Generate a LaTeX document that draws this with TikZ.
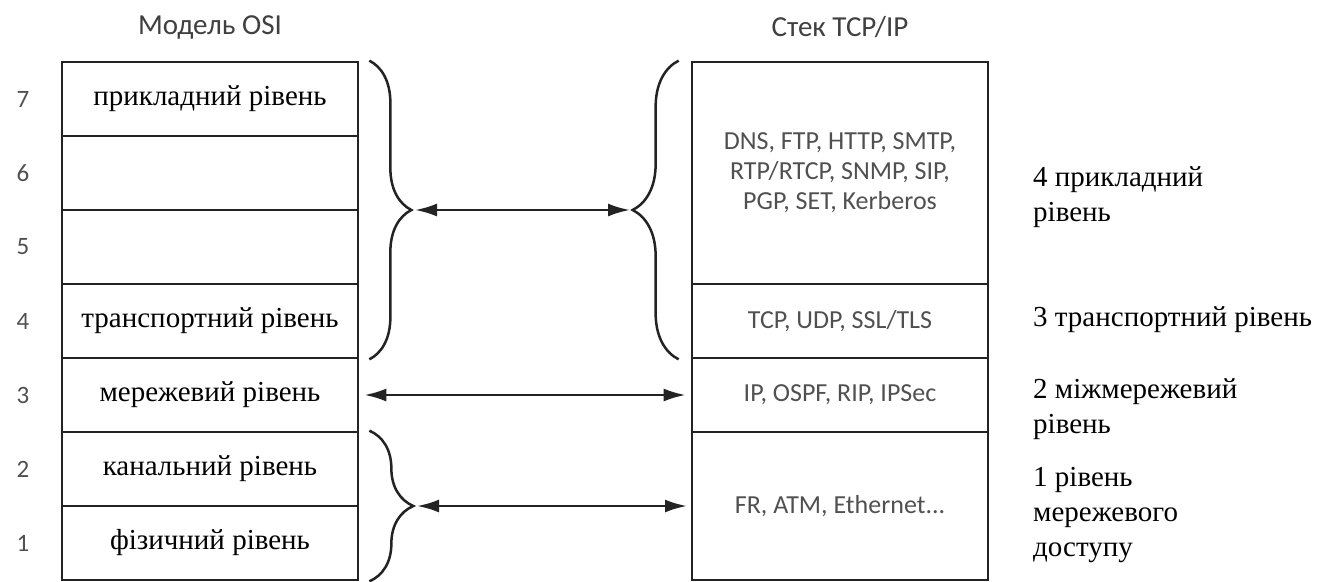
\documentclass[tikz,border=0pt]{standalone}
\usepackage{fontspec}
\setmainfont{Liberation Serif}
\setsansfont{Carlito}
\usetikzlibrary{arrows.meta,decorations.pathreplacing}
\definecolor{linegray}{RGB}{35,35,35}
\definecolor{textgray}{RGB}{80,80,80}

\begin{document}
\begin{tikzpicture}[x=1pt, y=-1pt,
    layer/.style={draw=linegray, line width=2.7pt, minimum width=296pt, minimum height=74pt,
      inner sep=0pt, font=\fontsize{29}{34}\selectfont},
    proto/.style={layer, font=\sffamily\fontsize{26}{30}\selectfont, text=textgray, align=center},
    num/.style={font=\sffamily\fontsize{25}{30}\selectfont, text=textgray},
    stack/.style={font=\fontsize{29}{35}\selectfont, align=left, anchor=west, inner sep=0pt},
    title/.style={font=\sffamily\fontsize{29}{34}\selectfont, text=textgray!80!black},
    bracket/.style={draw=linegray, line width=2.5pt, decorate, decoration={brace, amplitude=#1}},
    bracket/.default=42,
    link/.style={{Latex[length=22pt,width=13pt]}-{Latex[length=22pt,width=13pt]}, draw=linegray, line width=2.6pt}]
    \useasboundingbox (0,0) rectangle (1325,581);

    \node[title] (osititle) at (210, 27) {Модель OSI};
    \node[title] (tcptitle) at (840, 27) {Стек TCP/IP};

    % OSI model
    \node[layer] (osi7) at (210, 99) {прикладний рівень};
    \node[layer] (osi6) at (210, 173) {};
    \node[layer] (osi5) at (210, 247) {};
    \node[layer] (osi4) at (210, 321) {транспортний рівень};
    \node[layer] (osi3) at (210, 395) {мережевий рівень};
    \node[layer] (osi2) at (210, 469) {канальний рівень};
    \node[layer] (osi1) at (210, 543) {фізичний рівень};

    \node[num] (n7) at (23, 99) {7};
    \node[num] (n6) at (23, 173) {6};
    \node[num] (n5) at (23, 247) {5};
    \node[num] (n4) at (23, 321) {4};
    \node[num] (n3) at (23, 395) {3};
    \node[num] (n2) at (23, 469) {2};
    \node[num] (n1) at (23, 543) {1};

    % TCP/IP stack
    \node[proto, minimum height=222pt] (application) at (840, 173)
    {DNS, FTP, HTTP, SMTP,\\RTP/RTCP, SNMP, SIP,\\PGP, SET, Kerberos};
    \node[proto] (transport) at (840, 321) {TCP, UDP, SSL/TLS};
    \node[proto] (internet) at (840, 395) {IP, OSPF, RIP, IPSec};
    \node[proto, minimum height=148pt] (access) at (840, 506) {FR, ATM, Ethernet...};

    \node[stack] (applabel) at (1033, 197) {4 прикладний\\рівень};
    \node[stack] (translabel) at (1033, 320) {3 транспортний рівень};
    \node[stack] (netlabel) at (1033, 409) {2 міжмережевий\\рівень};
    \node[stack] (acclabel) at (1033, 515) {1 рівень\\мережевого\\доступу};

    % braces
    \draw[bracket] ([xshift=10pt]osi7.north east) -- ([xshift=10pt]osi4.south east);
    \draw[bracket=46] ([xshift=-12pt]transport.south west) -- ([xshift=-12pt]application.north west);
    \draw[bracket=44] ([xshift=10pt]osi2.north east) -- ([xshift=10pt]osi1.south east);

    \coordinate (upperleft) at (415, 210);
    \coordinate (upperright) at (630, 210);
    \coordinate (lowerleft) at (417, 506);
    \coordinate (lowerright) at (687, 506);

    \path
    (upperleft) edge[link] (upperright)
    (osi3.east) edge[link, shorten <=5pt, shorten >=5pt] (internet.west)
    (lowerleft) edge[link] (lowerright);
\end{tikzpicture}
\end{document}
